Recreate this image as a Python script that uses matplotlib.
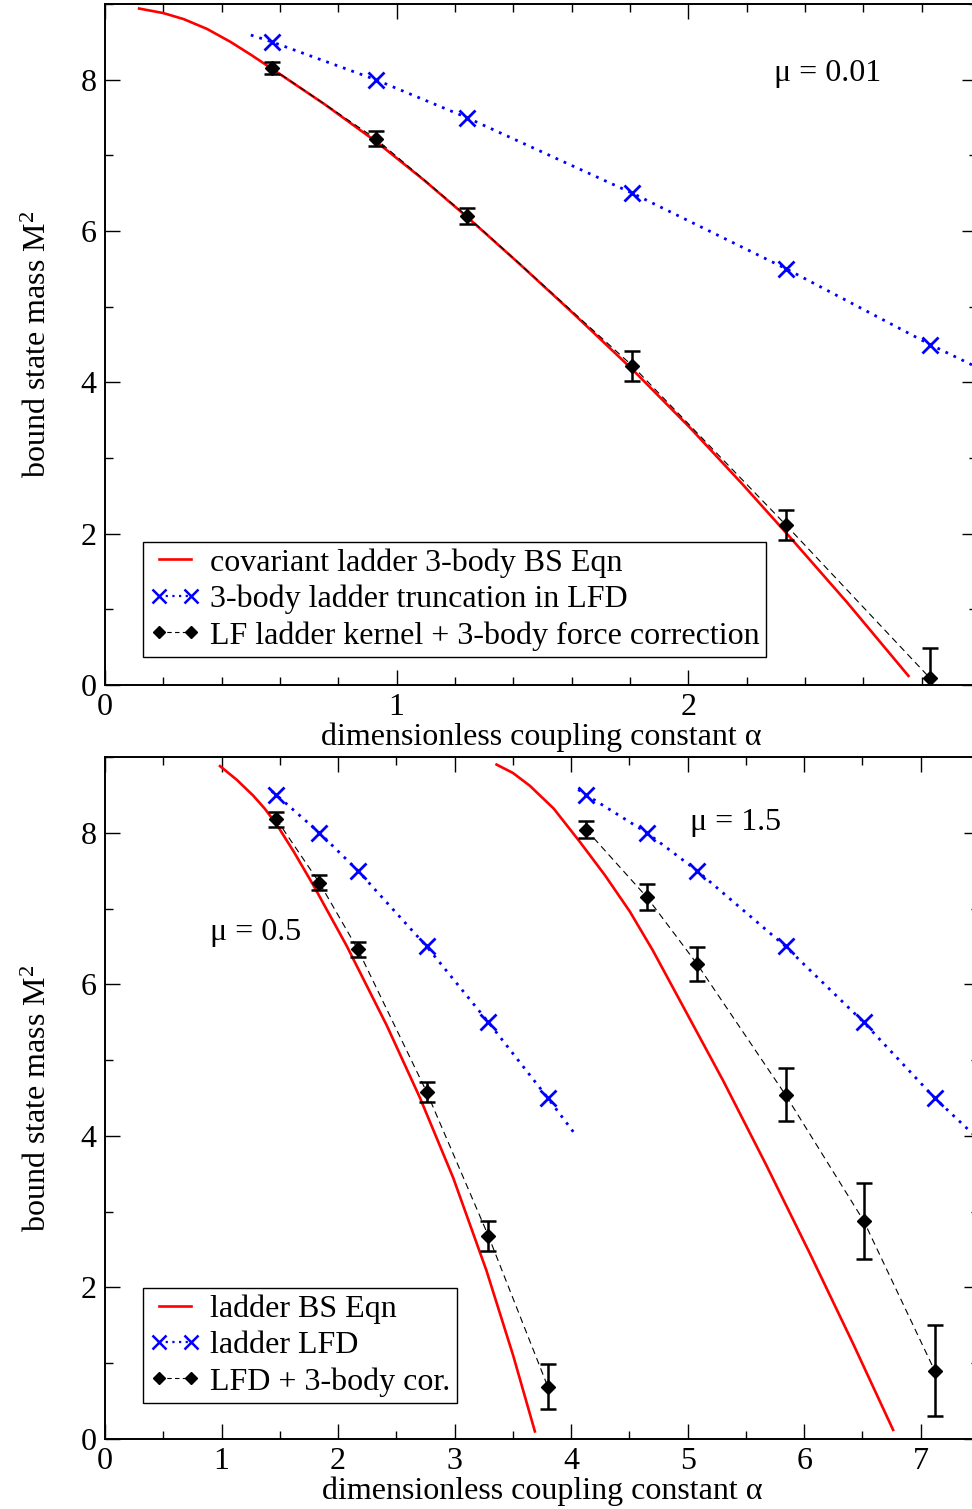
import matplotlib
matplotlib.use('Agg')
import matplotlib.pyplot as plt
from matplotlib.ticker import MultipleLocator
from matplotlib.lines import Line2D

plt.rcParams['font.family'] = ['Liberation Serif', 'DejaVu Serif']
plt.rcParams['mathtext.fontset'] = 'custom'
plt.rcParams['mathtext.rm'] = 'Liberation Serif'
plt.rcParams['mathtext.it'] = 'Liberation Serif:italic'

# ---------------- top panel (mu = 0.01) ----------------
top_bs_alpha = [0.117, 0.20, 0.27, 0.35, 0.43, 0.50, 0.574, 0.753, 0.932, 1.094,
                1.245, 1.416, 1.595, 1.81, 2.007, 2.186, 2.347, 2.544, 2.755]
top_bs_m2 = [8.94, 8.88, 8.80, 8.67, 8.50, 8.33, 8.14, 7.675, 7.174, 6.672,
             6.174, 5.584, 4.949, 4.164, 3.396, 2.653, 1.961, 1.094, 0.12]
top_alpha = [0.572, 0.928, 1.24, 1.808, 2.336, 2.829]
top_lfd_m2 = [8.5, 8.0, 7.5, 6.5, 5.5, 4.5]
top_lfd_line_alpha = [0.50, 0.572, 0.928, 1.24, 1.808, 2.336, 2.829, 3.0]
top_lfd_line_m2 = [8.59, 8.5, 8.0, 7.5, 6.5, 5.5, 4.5, 4.18]
top_cor_m2 = [8.15, 7.22, 6.20, 4.22, 2.11, 0.09]
top_cor_err = [0.08, 0.1, 0.105, 0.2, 0.2, 0.4]

# ---------------- bottom panel (mu = 0.5 and mu = 1.5) ----------------
b05_bs_alpha = [0.987, 1.13, 1.272, 1.37, 1.473, 1.62, 1.787, 2.073, 2.417, 2.702,
                2.988, 3.274, 3.503, 3.689]
b05_bs_m2 = [8.88, 8.70, 8.49, 8.32, 8.11, 7.75, 7.31, 6.51, 5.46, 4.505,
             3.447, 2.22, 1.10, 0.10]
b05_alpha = [1.47, 1.84, 2.17, 2.76, 3.29, 3.80]
b05_lfd_m2 = [8.5, 8.0, 7.5, 6.5, 5.5, 4.5]
b05_lfd_line_alpha = [1.43, 1.47, 1.84, 2.17, 2.76, 3.29, 3.80, 4.04]
b05_lfd_line_m2 = [8.55, 8.5, 8.0, 7.5, 6.5, 5.5, 4.5, 4.01]
b05_cor_m2 = [8.18, 7.34, 6.46, 4.58, 2.68, 0.69]
b05_cor_err = [0.1, 0.1, 0.1, 0.135, 0.2, 0.3]

b15_bs_alpha = [3.36, 3.50, 3.646, 3.85, 4.075, 4.29, 4.504, 4.70, 4.904, 5.304,
                5.676, 6.048, 6.419, 6.763]
b15_bs_m2 = [8.90, 8.79, 8.62, 8.32, 7.88, 7.44, 6.96, 6.45, 5.87, 4.73,
             3.61, 2.45, 1.26, 0.12]
b15_alpha = [4.13, 4.65, 5.08, 5.84, 6.51, 7.12]
b15_lfd_m2 = [8.5, 8.0, 7.5, 6.5, 5.5, 4.5]
b15_lfd_line_alpha = [4.06, 4.13, 4.65, 5.08, 5.84, 6.51, 7.12, 7.5]
b15_lfd_line_m2 = [8.57, 8.5, 8.0, 7.5, 6.5, 5.5, 4.5, 3.95]
b15_cor_m2 = [8.04, 7.15, 6.27, 4.54, 2.88, 0.90]
b15_cor_err = [0.11, 0.175, 0.22, 0.35, 0.5, 0.6]

top_legend = ['covariant ladder 3-body BS Eqn', '3-body ladder truncation in LFD',
              'LF ladder kernel + 3-body force correction']
bottom_legend = ['ladder BS Eqn', 'ladder LFD', 'LFD + 3-body cor.']

xlabel = 'dimensionless coupling constant \u03b1'
ylabel = r'bound state mass $\mathregular{M^2}$'

FS = 23
fig = plt.figure(figsize=(9.72, 15.09), dpi=100)
W, H = 972.0, 1509.0
ax1 = fig.add_axes([105 / W, 1 - 685 / H, 872 / W, 681 / H])
ax2 = fig.add_axes([105 / W, 1 - 1439 / H, 874 / W, 682 / H])

RED = '#ff0000'
BLUE = '#0000ff'


def draw(ax, bs_a, bs_m, a, lfd_m, la, lm, cor_m, cor_e):
    ax.plot(bs_a, bs_m, color=RED, lw=1.9, zorder=3, solid_joinstyle='round')
    ax.plot(la, lm, color=BLUE, lw=2.0, ls=(0, (1.0, 2.2)), zorder=2)
    ax.plot(a, lfd_m, ls='none', marker='x', ms=11, mew=2.0, color=BLUE, zorder=4)
    ax.plot(a, cor_m, color='black', lw=0.8, ls=(0, (6, 4)), zorder=4)
    ax.errorbar(a, cor_m, yerr=cor_e, fmt='D', ms=7, color='black',
                ecolor='black', elinewidth=1.8, capsize=5.5, capthick=1.8, zorder=5)


draw(ax1, top_bs_alpha, top_bs_m2, top_alpha, top_lfd_m2, top_lfd_line_alpha,
     top_lfd_line_m2, top_cor_m2, top_cor_err)
draw(ax2, b05_bs_alpha, b05_bs_m2, b05_alpha, b05_lfd_m2, b05_lfd_line_alpha,
     b05_lfd_line_m2, b05_cor_m2, b05_cor_err)
draw(ax2, b15_bs_alpha, b15_bs_m2, b15_alpha, b15_lfd_m2, b15_lfd_line_alpha,
     b15_lfd_line_m2, b15_cor_m2, b15_cor_err)


def legend_handles():
    return [Line2D([], [], color=RED, lw=1.9),
            Line2D([], [], color=BLUE, lw=1.6, ls=(0, (1, 2)), marker='x', ms=10, mew=1.8),
            Line2D([], [], color='black', lw=0.8, ls=(0, (4, 3)), marker='D', ms=6)]


for ax, xmax, xmaj, xmin, labels, ylo in [
        (ax1, 2.99, 1, 0.2, top_legend, 28 / 681),
        (ax2, 7.5, 1, 0.5, bottom_legend, 36 / 682)]:
    ax.set_xlim(0, xmax)
    ax.set_ylim(0, 9)
    ax.xaxis.set_major_locator(MultipleLocator(xmaj))
    ax.xaxis.set_minor_locator(MultipleLocator(xmin))
    ax.yaxis.set_major_locator(MultipleLocator(2))
    ax.yaxis.set_minor_locator(MultipleLocator(1))
    ax.tick_params(which='both', direction='in', top=True, right=True, width=1.0,
                   labelsize=FS, pad=6)
    ax.tick_params(which='major', length=11)
    ax.tick_params(which='minor', length=6)
    for s in ax.spines.values():
        s.set_linewidth(1.4)
    ax.set_xlabel(xlabel, fontsize=FS, labelpad=0)
    ax.set_ylabel(ylabel, fontsize=FS)
    ax.yaxis.set_label_coords(-0.06, 0.5)
    leg = ax.legend(legend_handles(), labels, loc='lower left',
                    bbox_to_anchor=(38 / 875, ylo), borderaxespad=0,
                    fontsize=FS, frameon=True, fancybox=False, framealpha=1,
                    edgecolor='black', numpoints=2, handlelength=1.6,
                    handletextpad=0.3, labelspacing=0.22, borderpad=0.2)
    leg.get_frame().set_linewidth(1.0)
    leg.set_zorder(10)

ax1.text(2.295, 8.08, '\u03bc = 0.01', fontsize=FS, ha='left', va='center')
ax2.text(0.90, 6.69, '\u03bc = 0.5', fontsize=FS, ha='left', va='center')
ax2.text(5.02, 8.13, '\u03bc = 1.5', fontsize=FS, ha='left', va='center')

fig.savefig('out.png', dpi=100)
